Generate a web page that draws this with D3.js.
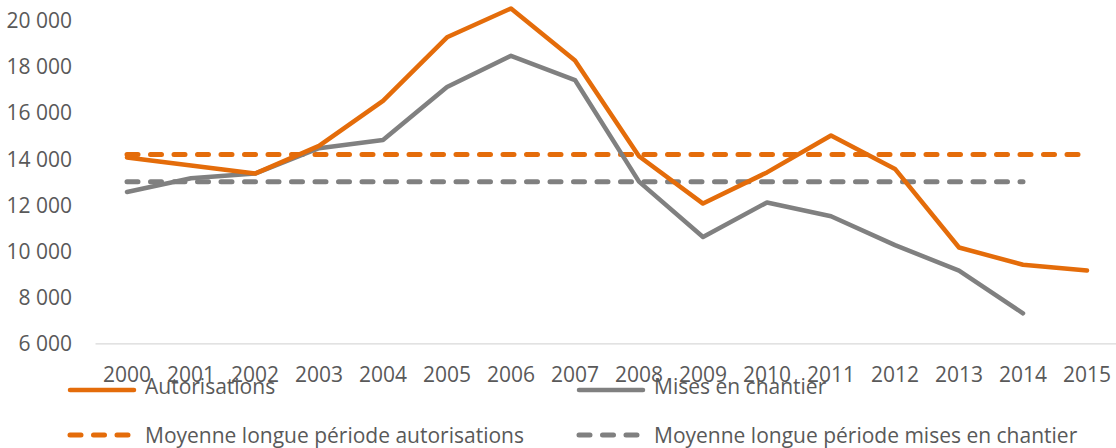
<!DOCTYPE html>
<html>
<head>
<meta charset="utf-8">
<script src="https://cdn.jsdelivr.net/npm/d3@7"></script>
<style>
  html, body { margin: 0; padding: 0; background: #fff; }
  svg { display: block; }
  text { font-family: "Open Sans", sans-serif; fill: #595959; }
</style>
</head>
<body>
<svg id="chart" width="1116" height="448"></svg>
<script>
const years = ["2000","2001","2002","2003","2004","2005","2006","2007","2008","2009","2010","2011","2012","2013","2014","2015"];
const autorisations = [14050, 13700, 13350, 14550, 16500, 19250, 20500, 18250, 14100, 12050, 13400, 15000, 13550, 10150, 9400, 9150];
const misesEnChantier = [12550, 13150, 13350, 14450, 14800, 17100, 18450, 17400, 13000, 10600, 12100, 11500, 10250, 9150, 7300];
const moyenneAutorisations = [14180, 14180, 14180, 14180, 14180, 14180, 14180, 14180, 14180, 14180, 14180, 14180, 14180, 14180, 14180, 14180];
const moyenneMises = [13000, 13000, 13000, 13000, 13000, 13000, 13000, 13000, 13000, 13000, 13000, 13000, 13000, 13000, 13000];
const yTicks = [6000, 8000, 10000, 12000, 14000, 16000, 18000, 20000];
const seriesNames = ["Autorisations", "Mises en chantier", "Moyenne longue période autorisations", "Moyenne longue période mises en chantier"];

const ORANGE = "#E46C0A", GRAY = "#808080";
const DASH = "11 12.5";
const svg = d3.select("#chart");

const x = d3.scaleBand().domain(years).range([95, 1119]).padding(0);
const y = d3.scaleLinear().domain([6000, 20000]).range([343.3, 20]);
const cx = d => x(d) + x.bandwidth() / 2;

const fmt = d3.formatLocale({decimal: ",", thousands: " ", grouping: [3], currency: ["", ""]}).format(",");

// Y axis labels
const yAxis = d3.axisLeft(y).tickValues(yTicks).tickFormat(fmt).tickSize(0).tickPadding(0);
const gy = svg.append("g").attr("transform", "translate(72,0)").call(yAxis);
gy.select(".domain").remove();
gy.selectAll("text").attr("font-size", 21).attr("fill", "#595959").attr("font-family", "Open Sans").attr("dy", "0.36em");

// X axis line + labels
const xAxis = d3.axisBottom(x).tickSize(0).tickPadding(0);
const gx = svg.append("g").attr("transform", `translate(0,${y(6000)})`).call(xAxis);
gx.select(".domain").attr("stroke", "#D9D9D9").attr("stroke-width", 1.3);
gx.selectAll("text").attr("font-size", 21).attr("fill", "#595959").attr("font-family", "Open Sans").attr("y", 31).attr("dy", "0.36em");

function drawLine(values, color, dashed) {
  const line = d3.line().x((d, i) => cx(years[i])).y(d => y(d));
  const p = svg.append("path").datum(values)
    .attr("d", line).attr("fill", "none").attr("stroke", color)
    .attr("stroke-width", dashed ? 5 : 4.5).attr("stroke-linejoin", "round").attr("stroke-linecap", "round");
  if (dashed) p.attr("stroke-dasharray", DASH);
}

drawLine(moyenneAutorisations, ORANGE, true);
drawLine(moyenneMises, GRAY, true);
drawLine(misesEnChantier, GRAY, false);
drawLine(autorisations, ORANGE, false);

// Legend
const legend = [
  {name: seriesNames[0], color: ORANGE, dashed: false, lx: 68, ly: 390},
  {name: seriesNames[1], color: GRAY, dashed: false, lx: 577, ly: 390},
  {name: seriesNames[2], color: ORANGE, dashed: true, lx: 68, ly: 435},
  {name: seriesNames[3], color: GRAY, dashed: true, lx: 577, ly: 435}
];
const lg = svg.append("g").selectAll("g").data(legend).join("g")
  .attr("transform", d => `translate(${d.lx},${d.ly})`);
lg.append("line").attr("x1", 2).attr("x2", 66).attr("y1", 0).attr("y2", 0)
  .attr("stroke", d => d.color).attr("stroke-width", d => d.dashed ? 5 : 4.5).attr("stroke-linecap", "round")
  .attr("stroke-dasharray", d => d.dashed ? DASH : null);
lg.append("text").attr("x", 77).attr("y", (d, i) => i < 2 ? -4 : 0).attr("dy", "0.36em")
  .attr("font-size", 21).text(d => d.name);
</script>
</body>
</html>
